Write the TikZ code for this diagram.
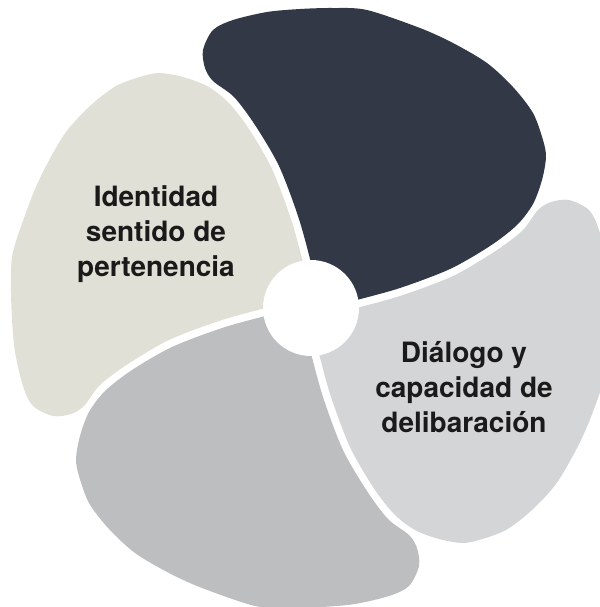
\documentclass[tikz,border=0pt]{standalone}
\usepackage{fontspec}
\setmainfont{TeX Gyre Heros}
\usepackage{tikz}

\definecolor{petalDark}{HTML}{323846}
\definecolor{petalLight}{HTML}{D4D5D7}
\definecolor{petalGray}{HTML}{BDBEC0}
\definecolor{petalBeige}{HTML}{E0E0D6}
\definecolor{textDark}{HTML}{1A1A1A}

\begin{document}
\begin{tikzpicture}[x=0.5pt,y=0.5pt]
	\tikzstyle{petal text}=[text=textDark, align=center, font=\bfseries\fontsize{14}{17.5}\selectfont]
	\tikzstyle{hub}=[circle, fill=white, minimum size=48pt, inner sep=0pt]

	\useasboundingbox (-311,-299) rectangle (289,308);

	% one petal, turned four times round the hub
	\foreach \ang/\col in {0/petalDark, -90/petalLight, 180/petalGray, 90/petalBeige}
		\fill [\col, rotate=\ang] (0,0) -- plot [smooth] coordinates {(30,3) (46,8) (89,20) (139,39) (179,62) (206,83) (222,104) (231,128) (235,151) (232,168) (222,195) (202,221) (176,245) (142,265) (109,280) (56,298) (22,300) (-11,299) (-44,296) (-78,288) (-98,278) (-108,258) (-106,240) (-98,227) (-77,211) (-56,183) (-32,142) (-13,92) (-1,49) (2,30)} -- cycle;

	\node [hub] (hub) at (0,0) {};
	\node [petal text] (identidad) at (-155,74) {Identidad\\sentido de\\pertenencia};
	\node [petal text] (dialogo) at (153,-79) {Diálogo y\\capacidad de\\delibaración};
\end{tikzpicture}
\end{document}
